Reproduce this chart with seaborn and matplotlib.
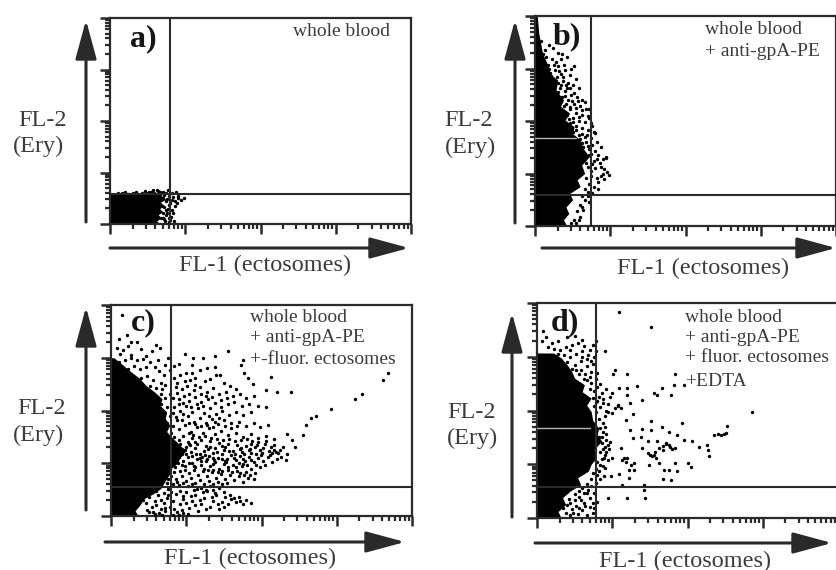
import numpy as np
import pandas as pd
import matplotlib
matplotlib.use("Agg")
import matplotlib.pyplot as plt
from matplotlib.patches import FancyArrowPatch
from matplotlib.ticker import LogLocator, NullFormatter
import seaborn as sns

sns.set_style("white")
plt.rcParams['font.family'] = ['Liberation Serif', 'DejaVu Serif']

# All event values are channels: 100 channels = one log decade, range 0-400.
# Solid core of each cloud: FL-2 channel -> right edge in FL-1 channel.
a_core_y = [0, 6, 12, 18, 24, 30, 36, 42, 48, 53, 58, 60]
a_core_x = [66, 62, 68, 64, 70, 66, 72, 67, 74, 70, 66, 40]
b_core_y = [0, 12, 24, 36, 50, 62, 75, 88, 100, 116, 132, 148, 164, 176, 189, 202, 215, 228, 240, 259, 278, 290, 303, 316, 329, 367, 400]
b_core_x = [42, 38, 45, 41, 50, 46, 60, 56, 66, 62, 72, 64, 60, 50, 52, 40, 46, 34, 38, 28, 30, 20, 18, 14, 10, 5, 3]
c_core_y = [0, 10, 20, 33, 42, 52, 62, 71, 80, 90, 100, 109, 118, 125, 133, 141, 150, 160, 172, 185, 197, 210, 222, 235, 248, 261, 274, 286, 300]
c_core_x = [36, 32, 38, 44, 56, 66, 70, 74, 78, 80, 88, 91, 96, 100, 92, 87, 80, 74, 78, 72, 74, 65, 68, 58, 46, 38, 26, 16, 4]
d_core_y = [0, 12, 25, 38, 50, 62, 75, 87, 100, 112, 128, 143, 155, 167, 182, 198, 210, 223, 235, 248, 260, 273, 285, 298, 307]
d_core_x = [32, 28, 38, 34, 44, 58, 54, 68, 72, 79, 76, 86, 80, 82, 74, 72, 66, 72, 60, 63, 50, 46, 40, 32, 22]

a_events = [(84,53),(88,63),(95,47),(99,50),(71,11),(80,8),(75,27),(80,40),(84,21),(82,47),(62,66),(57,66),
            (42,60),(16,60),(71,63),(77,66),(66,58),(72,57),(78,55),(70,50),(74,44),(68,35),(72,33),(77,30),
            (70,22),(74,17),(68,12),(73,5),(78,3),(81,14),(86,35),(89,41),(52,62),(30,60),(36,59),(24,58),
            (48,60),(58,61),(10,61),(20,63),(46,64),(55,63),(67,62),(75,60),(83,60),(91,54),(86,44),(79,36),
            (83,28),(76,22),(79,12),(72,9),(85,6),(76,49),(90,50),(64,64),(34,62)]

b_events = [(13,335),(19,345),(24,340),(30,330),(36,328),(15,322),(22,318),(28,312),(34,318),(42,322),(48,300),
            (52,305),(12,310),(18,300),(26,298),(32,296),(40,298),(46,288),(54,280),(21,285),(29,283),(37,276),
            (44,272),(50,268),(58,262),(24,265),(33,262),(40,258),(48,250),(56,246),(62,240),(66,236),(36,245),
            (44,240),(52,232),(60,228),(68,222),(72,222),(38,228),(46,222),(54,216),(62,212),(70,210),(42,212),
            (50,206),(58,200),(66,198),(74,196),(46,196),(54,190),(62,186),(70,182),(78,180),(50,180),(58,174),
            (66,170),(74,168),(82,160),(88,150),(60,165),(68,160),(76,155),(72,146),(80,142),(84,136),(90,128),
            (94,130),(78,124),(86,120),(92,108),(96,102),(70,112),(80,110),(75,95),(82,92),(88,95),(92,90),
            (98,98),(72,80),(78,75),(84,84),(70,65),(76,62),(66,50),(72,46),(60,40),(64,30),(56,28),(60,18),
            (52,12),(55,6),(62,58),(95,132),(80,178),(30,255),(35,290),(27,275),(16,280),(43,262),(38,306),
            (72,206),(76,190),(64,150),(72,136),(76,118),(66,128),
            (8,352),(11,328),(17,306),(20,292),(25,306),(31,304),(37,284),(41,268),(35,268),(30,272),(26,256),
            (32,246),(40,248),(47,262),(52,254),(57,238),(49,238),(41,232),(47,226),(55,224),(63,220),(58,208),
            (51,198),(45,204),(43,186),(55,182),(63,176),(69,174),(47,170),(53,168),(62,158),(70,152),(74,138),
            (68,120),(82,128),(88,112),(90,100),(74,104),(68,92),(84,70),(66,70),(70,58),(62,36),(58,12),(48,6)]

c_events = [(14,381),(21,343),(27,330),(60,324),(65,318),(12,308),(27,305),(47,304),(72,287),(98,308),(109,300),
            (122,300),(138,304),(155,313),(91,289),(107,286),(127,280),(138,283),(175,296),(173,286),(177,272),
            (182,261),(189,251),(213,264),(206,238),(220,235),(239,235),(140,267),(145,267),(118,276),(107,272),
            (368,272),(361,258),(334,232),(324,221),(293,202),(273,190),(266,185),(259,172),(255,153),(244,131),
            (240,144),(234,155),
            # upper wing
            (84,262),(92,268),(98,255),(105,258),(112,262),(125,256),(132,260),(150,252),(158,246),(166,240),
            (86,244),(94,240),(101,246),(110,238),(118,244),(128,236),(136,242),(144,232),(153,236),(162,228),
            (172,232),(180,224),(190,228),(83,224),(90,222),(97,228),(104,218),(112,226),(120,216),(129,222),
            (138,214),(146,220),(155,212),(164,216),(174,208),(184,212),(196,208),(206,206),(84,206),(92,200),
            (100,208),(108,198),(116,204),(124,196),(132,204),(140,194),(148,200),(157,192),(166,198),(176,192),
            (186,198),(86,188),(94,182),(102,190),(110,178),(118,186),(126,176),(134,184),(142,174),(150,182),
            (160,176),(170,178),(180,170),(190,176),(198,168),(208,172),(83,170),(90,164),(98,172),(106,160),
            (114,168),(122,158),(130,166),(138,156),(146,162),(156,154),(166,158),(176,150),(186,156),(196,148),
            (206,152),(216,146),
            # lower wing
            (84,150),(90,144),(96,152),(102,140),(108,148),(114,136),(120,144),(126,132),(132,142),(138,128),
            (144,138),(150,126),(156,136),(162,124),(168,134),(174,122),(180,132),(186,120),(192,130),(198,126),
            (204,136),(210,124),(216,134),(222,120),(228,130),(234,118),(206,142),(214,120),(196,140),(188,142),
            (100,130),(106,122),(112,128),(118,118),(124,124),(130,114),(136,120),(142,110),(148,118),(154,108),
            (160,116),(166,106),(172,114),(178,104),(184,112),(190,102),(196,110),(202,104),(208,112),(214,102),
            (220,108),(226,112),(232,106),(90,112),(96,104),(102,112),(108,100),(114,108),(120,96),(126,104),
            (132,94),(138,102),(144,90),(150,98),(156,88),(162,96),(168,86),(174,94),(180,84),(186,90),(192,82),
            (198,92),(85,92),(92,86),(98,94),(104,82),(110,88),(116,78),(122,86),(128,76),(134,84),(140,72),
            (146,80),(152,70),(158,78),(164,68),(170,76),(176,64),(182,72),(190,70),(80,76),(87,70),(94,76),
            (100,66),(106,72),(112,62),(118,68),(124,60),(130,66),(136,60),(142,64),(148,60),(154,62),(74,62),
            (82,60),(90,58),(96,62),
            # below the gate
            (42,30),(46,24),(50,36),(54,18),(58,28),(62,40),(66,14),(70,24),(74,34),(48,12),(56,8),(64,6),
            (72,10),(78,18),(82,28),(86,42),(88,8),(92,22),(96,32),(100,46),(94,12),(104,16),(108,28),(112,40),
            (116,10),(120,22),(124,34),(128,48),(132,18),(136,28),(140,40),(144,14),(148,26),(152,36),(156,22),
            (160,32),(166,26),(172,28),(180,30),(186,24),(110,50),(122,46),(136,50),(150,46),(92,48),(80,46),
            (46,42),(52,46),(60,48),(90,2),(96,5),
            # cloud edge
            (100,118),(92,136),(84,134),(76,150),(70,156),(80,158),(66,172),(74,176),(62,188),(70,194),(78,190),
            (60,204),(66,212),(74,206),(50,220),(58,226),(66,232),(72,224),(44,240),(52,246),(60,242),(68,240),
            (32,258),(40,262),(48,266),(56,258),(22,278),(30,284),(38,278),(46,282),(10,292),(18,296),(26,300),
            (34,296),(42,298),(52,292),(8,318),(16,314),
            # second pass, clumps read from the darker patches
            (103,136),(105,134),(111,141),(129,127),(131,130),(147,133),(152,131),(171,127),(173,129),(177,117),
            (183,125),(185,127),(193,118),(199,116),(201,120),(211,116),(217,125),(219,122),(224,126),(118,110),
            (121,112),(127,108),(135,110),(137,107),(151,104),(153,102),(163,110),(170,101),(175,99),(176,108),
            (181,97),(186,106),(193,96),(205,96),(110,95),(112,92),(124,90),(129,88),(136,88),(142,84),(148,86),
            (155,93),(161,84),(166,92),(171,82),(177,78),(185,78),(104,100),(99,88),(94,97),(89,100),(86,122),
            (91,126),(95,118),(98,126),(108,114),(113,118),(120,104),(125,116),(135,98),(141,122),(147,108),
            (157,124),(165,118),(186,136),(194,134),(202,128),(212,130),(103,158),(109,154),(117,150),(125,152),
            (133,148),(141,146),(149,144),(157,146),(165,142),(173,144),(181,146),(112,174),(120,170),(128,172),
            (136,168),(144,186),(152,170),(160,166),(168,170),(104,176),(96,194),(106,206),(114,212),(122,208),
            (130,190),(138,178),(146,206),(154,224),(126,228),(134,226),(104,232),(112,248),(120,232),(96,214),
            (88,234),(88,252),(100,272),(78,276),(84,284),(76,300),(62,296),(54,312),(40,316),(34,330),(22,322),
            (10,335),(70,268),(64,274),(58,282),(88,182),(82,196),(90,212),(78,232),(72,248),(66,252),
            (76,70),(84,84),(88,64),(102,56),(108,60),(114,52),(120,54),(126,50),(132,56),(138,44),(144,54),
            (70,44),(76,40),(66,30),(72,16),(84,14),(100,24),(106,38),(112,20),(118,30),(126,14),(134,36),(142,22),
            (150,18),(158,40),(164,34),(170,36),(176,22),(60,20),(50,8),(58,4),(68,2),(82,2),(102,4),(76,52),(96,38)]

d_events = [(109,384),(152,355),(90,311),(103,276),(101,268),(119,268),(184,268),(182,248),(195,248),(133,246),
            (120,242),(109,242),(100,233),(120,229),(155,233),(160,228),(166,242),(178,229),(140,220),(124,214),
            (107,211),(111,205),(95,198),(100,195),(127,193),(286,198),(118,183),(152,181),(193,177),(166,170),
            (253,172),(251,158),(244,155),(235,155),(124,163),(140,166),(151,164),(175,160),(186,155),(127,149),
            (138,150),(147,143),(160,144),(171,140),(175,136),(184,130),(195,146),(206,143),(215,133),(226,136),
            (227,127),(229,115),(111,130),(115,112),(120,112),(129,102),(140,130),(147,121),(153,115),(158,112),
            (162,130),(167,127),(149,99),(162,102),(175,90),(184,102),(200,102),(204,94),(100,112),(89,112),
            (91,93),(98,78),(89,78),(109,81),(122,90),(129,90),(122,74),(113,62),(142,62),(142,53),(95,37),
            (120,37),(143,37),(169,90),(167,73),(178,71),(186,87),
            # tight clusters
            (241,157),(248,156),(155,118),(157,122),(150,118),(172,137),(168,134),(180,128),(177,132),(113,108),
            (118,104),(125,98),(97,225),(103,204),(108,208),(92,146),(97,142),(94,136),(90,132),(96,128),
            # cloud edge
            (82,150),(86,140),(88,128),(84,122),(90,118),(86,110),(80,104),(84,98),(78,92),(74,84),(80,80),
            (72,72),(66,64),(60,56),(68,52),(62,46),(56,40),(50,34),(44,28),(52,22),(46,16),(38,10),(44,6),
            (54,8),(60,14),(62,28),(70,20),(74,10),(70,38),(76,46),(80,30),(34,18),(84,168),(88,176),(82,184),
            (90,190),(78,198),(84,206),(88,214),(78,216),(82,226),(86,232),(76,236),(80,244),(72,252),(78,258),
            (70,262),(64,268),(72,272),(58,276),(66,282),(74,286),(50,284),(58,292),(66,296),(76,300),(44,300),
            (52,306),(60,310),(70,312),(30,312),(38,318),(46,322),(54,326),(62,320),(74,322),(20,326),(12,336),
            (28,330),(40,336),(50,338),(60,332),(8,348),(78,330),(78,310),
            # second pass along the edge
            (76,208),(80,218),(74,224),(70,240),(67,256),(62,258),(56,268),(52,276),(46,278),(40,290),(36,304),
            (28,306),(22,314),(15,318),(6,330),(44,312),(60,300),(68,304),(72,292),(80,270),(84,250),(92,240),
            (88,222),(94,212),(92,200),(88,160),(92,156),(90,170),(86,150),(92,122),(94,108),(88,96),(82,88),
            (84,72),(78,66),(72,60),(58,34),(64,22),(56,18),(48,10),(66,6),(40,24),(42,36),(50,44),(56,50),(74,28),
            (66,46),(76,18)]

gates = {'a': (80, 58), 'b': (75, 59), 'c': (80, 55), 'd': (78, 57)}
captions = {'a': ['whole blood'],
            'b': ['whole blood', '+ anti-gpA-PE'],
            'c': ['whole blood', '+ anti-gpA-PE', '+-fluor. ectosomes'],
            'd': ['whole blood', '+ anti-gpA-PE', '+ fluor. ectosomes', '+EDTA']}
x_title = 'FL-1 (ectosomes)'
y_title = ['FL-2', '(Ery)']

W, H = 836, 570
fig = plt.figure(figsize=(W / 100, H / 100), dpi=100)
INK = '#2a2a2a'
TXT = '#3c3c3c'


def fx(p):
    return p / W


def fy(p):
    return 1 - p / H


def ch(v):
    return 10 ** (np.asarray(v, dtype=float) / 100)


def arrow(x0, y0, x1, y1):
    fig.add_artist(FancyArrowPatch((fx(x0), fy(y0)), (fx(x1), fy(y1)), transform=fig.transFigure,
                                   arrowstyle='-|>,head_length=24,head_width=6.5', mutation_scale=1,
                                   lw=2.2, color=INK, shrinkA=0, shrinkB=0))


def panel(key, box, core_x, core_y, events, split=None):
    l, t, r, b = box
    ax = fig.add_axes([fx(l), fy(b), (r - l) / W, (b - t) / H])
    ax.set_xscale('log')
    ax.set_yscale('log')
    ax.set_xlim(1, 1e4)
    ax.set_ylim(1, 1e4)
    ax.fill_betweenx(ch(core_y), 1, ch(core_x), color='black', lw=0, zorder=2)
    df = pd.DataFrame(events, columns=['fl1', 'fl2'])
    df['fl1'] = ch(df['fl1'])
    df['fl2'] = ch(df['fl2'])
    sns.scatterplot(data=df, x='fl1', y='fl2', ax=ax, color='black', s=6, marker='o', linewidth=0,
                    zorder=3, clip_on=True)
    gx, gy = gates[key]
    ax.axvline(ch(gx), color=INK, lw=1.5, zorder=4)
    ax.axhline(ch(gy), color=INK, lw=1.5, zorder=4)
    if split:
        ax.plot(ch([0, split[0]]), ch([split[1], split[1]]), color='#b5b5b5', lw=1, zorder=5)
    ax.set_xlabel('')
    ax.set_ylabel('')
    for axis in (ax.xaxis, ax.yaxis):
        axis.set_major_locator(LogLocator(base=10, numticks=6))
        axis.set_minor_locator(LogLocator(base=10, subs=np.arange(2, 10), numticks=6))
        axis.set_major_formatter(NullFormatter())
        axis.set_minor_formatter(NullFormatter())
    ax.tick_params(which='major', direction='out', length=7, width=1.8, color=INK, left=True, bottom=True)
    ax.tick_params(which='minor', direction='out', length=3.5, width=1.6, color=INK, left=True, bottom=True)
    for s in ax.spines.values():
        s.set_color(INK)
        s.set_linewidth(1.6)
    return ax


panel('a', (110, 18, 411, 224), a_core_x, a_core_y, a_events)
panel('b', (535, 16, 836, 226), b_core_x, b_core_y, b_events, split=(55, 167))
panel('c', (111, 305, 412, 516), c_core_x, c_core_y, c_events)
panel('d', (537, 303, 838, 518), d_core_x, d_core_y, d_events, split=(71, 167))

arrow(86, 222, 86, 20)
arrow(110, 248, 409, 248)
arrow(515, 223, 515, 20)
arrow(542, 248, 836, 248)
arrow(86, 510, 86, 307)
arrow(105, 542, 405, 542)
arrow(512, 517, 512, 313)
arrow(535, 543, 832, 543)


def label(x, y, s, size=17.5, weight='normal', ha='center', color=TXT):
    fig.text(fx(x), fy(y), s, fontsize=size, fontweight=weight, ha=ha, va='center', color=color)


for (x1, y1, x2, y2) in [(43, 120, 38, 146), (469, 120, 470, 147), (42, 408, 39, 435), (472, 412, 473, 438)]:
    label(x1, y1, y_title[0])
    label(x2, y2, y_title[1])
for (x, y) in [(265, 265), (703, 268), (250, 558), (685, 561)]:
    label(x, y, x_title)
for (x, y, s) in [(143, 39, 'a)'), (567, 37, 'b)'), (143, 323, 'c)'), (565, 323, 'd)')]:
    label(x, y, s, size=23, weight='bold', color='#151515')

CAP = 14
label(293, 32, captions['a'][0], size=CAP, ha='left')
for y, s in zip([29, 52], captions['b']):
    label(705, y, s, size=CAP, ha='left')
for y, s in zip([317, 338, 359], captions['c']):
    label(250, y, s, size=CAP, ha='left')
for y, s in zip([317, 338, 358, 381], captions['d']):
    label(685, y, s, size=CAP, ha='left')

fig.savefig('out.png', dpi=100)
